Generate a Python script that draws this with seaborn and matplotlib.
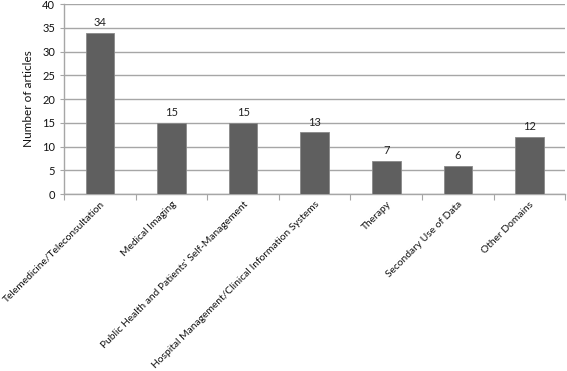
import matplotlib.pyplot as plt
import seaborn as sns
import pandas as pd

# Article counts per application domain
domains = [
    "Telemedicine/Teleconsultation",
    "Medical Imaging",
    "Public Health and Patients' Self-Management",
    "Hospital Management/Clinical Information Systems",
    "Therapy",
    "Secondary Use of Data",
    "Other Domains",
]
counts = [34, 15, 15, 13, 7, 6, 12]

sns.set_theme(style="white")
plt.rcParams['font.family'] = ['Lato', 'DejaVu Sans']

df = pd.DataFrame({"domain": domains, "count": counts})

fig = plt.figure(figsize=(5.67, 3.71), dpi=100)
ax = fig.add_axes([0.113, 0.477, 0.884, 0.512])

sns.barplot(data=df, x="domain", y="count", ax=ax, color="#5f5f5f",
            saturation=1, width=0.4, edgecolor="#8a8a8a", linewidth=0.6, zorder=3)

ax.set_ylim(0, 40)
ax.set_yticks(range(0, 41, 5))
ax.set_xlim(-0.5, len(domains) - 0.5)
ax.yaxis.grid(True, color="#a6a6a6", linewidth=1.0, zorder=0)
ax.xaxis.grid(False)

for i, v in enumerate(counts):
    ax.text(i, v + 1.0, str(v), ha="center", va="bottom", fontsize=8, color="#222222")

ax.set_xlabel("")
ax.set_ylabel("Number of articles", fontsize=8.5, color="#111111", labelpad=6)
ax.tick_params(axis="y", labelsize=8, colors="#111111", length=3, color="#a6a6a6",
               left=True, width=0.8)
ax.tick_params(axis="x", length=0, labelsize=7.4, colors="#111111", pad=4)
ax.set_xticks(range(len(domains)))
ax.set_xticklabels(domains, rotation=45, ha="right", rotation_mode="anchor")

# boundary ticks between categories
ax.set_xticks([x - 0.5 for x in range(len(domains) + 1)], minor=True)
ax.tick_params(axis="x", which="minor", length=4, color="#a6a6a6", width=0.8, bottom=True)

for side in ["top", "right"]:
    ax.spines[side].set_visible(False)
for side in ["left", "bottom"]:
    ax.spines[side].set_color("#a6a6a6")
    ax.spines[side].set_linewidth(1.0)

fig.savefig("out.png", dpi=100)
